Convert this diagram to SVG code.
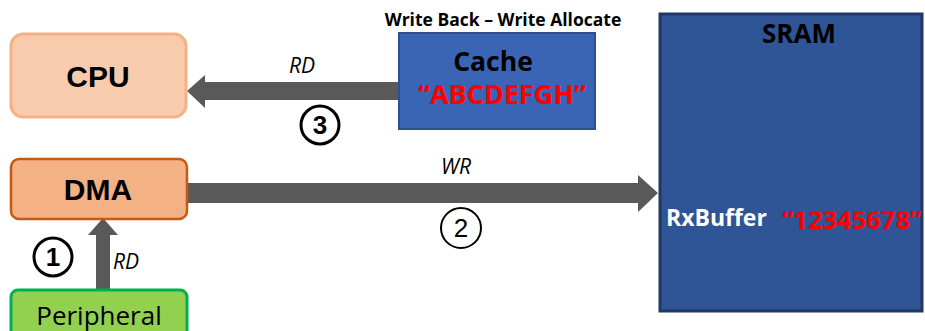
<svg xmlns="http://www.w3.org/2000/svg" width="925" height="331" viewBox="0 0 925 331">
<style>
.arrow{fill:#595959}
.lbl{font-family:"Open Sans","Liberation Sans",sans-serif;font-style:italic;font-size:21px;fill:#000}
.num{font-family:"Liberation Sans",sans-serif;font-size:26px;fill:#000;text-anchor:middle}
.big{font-family:"Liberation Sans",sans-serif;font-weight:bold;font-size:30px;text-anchor:middle}
.cal{font-family:"Open Sans","Liberation Sans",sans-serif;font-weight:bold}
</style>
<rect width="925" height="331" fill="#fff"/>
<g id="connectors">
  <polygon class="arrow" points="398,82 205,82 205,75 187,91 205,108 205,100 398,100"/>
  <polygon class="arrow" points="186,183 638,183 638,175 658,193 638,212 638,203 186,203"/>
  <polygon class="arrow" points="96,289 96,235 88,235 103,218 118,235 110,235 110,289"/>
  <text class="lbl" x="289" y="73">RD</text>
  <text class="lbl" x="441" y="174">WR</text>
  <text class="lbl" x="113" y="269">RD</text>
  <g id="step3"><circle cx="320" cy="125" r="19" fill="#fff" stroke="#000" stroke-width="3"/><text class="num" x="320" y="134" font-weight="bold">3</text></g>
  <g id="step2"><circle cx="461" cy="228" r="20" fill="#fff" stroke="#000" stroke-width="2"/><text class="num" x="461" y="237">2</text></g>
  <g id="step1"><circle cx="53" cy="257" r="19" fill="#fff" stroke="#000" stroke-width="3"/><text class="num" x="53" y="266" font-weight="bold">1</text></g>
</g>
<g id="cpu">
  <rect x="11" y="34" width="175" height="83" rx="12" fill="#F8CBAD" stroke="#F4B183" stroke-width="3"/>
  <text class="big" x="98" y="87">CPU</text>
</g>
<g id="dma">
  <rect x="11" y="159" width="176" height="60" rx="8" fill="#F4B183" stroke="#C55A11" stroke-width="2.5"/>
  <text class="big" x="98" y="200">DMA</text>
</g>
<g id="peripheral">
  <rect x="11" y="290" width="176" height="55" rx="7" fill="#92D050" stroke="#00B050" stroke-width="3"/>
  <text x="99" y="325" font-family="Open Sans,Liberation Sans,sans-serif" font-size="26" text-anchor="middle" fill="#000">Peripheral</text>
</g>
<g id="cache">
  <text class="cal" x="503" y="26" font-size="17.5" text-anchor="middle" fill="#000">Write Back – Write Allocate</text>
  <rect x="399" y="33" width="196" height="96" fill="#3A64B4" stroke="#2F4F8F" stroke-width="2"/>
  <text class="cal" x="493" y="71" font-size="26.5" text-anchor="middle" fill="#000">Cache</text>
  <text class="cal" x="502" y="104" font-size="27" text-anchor="middle" fill="#FF0000">“ABCDEFGH”</text>
</g>
<g id="sram">
  <rect x="660" y="14" width="262" height="297" fill="#2F5597" stroke="#203864" stroke-width="3"/>
  <text class="cal" x="799" y="43" font-size="26" text-anchor="middle" fill="#000">SRAM</text>
  <text class="cal" x="666" y="226" font-size="23" fill="#fff">RxBuffer</text>
  <text class="cal" x="782" y="229" font-size="25.5" fill="#FF0000">“12345678”</text>
</g>
</svg>
